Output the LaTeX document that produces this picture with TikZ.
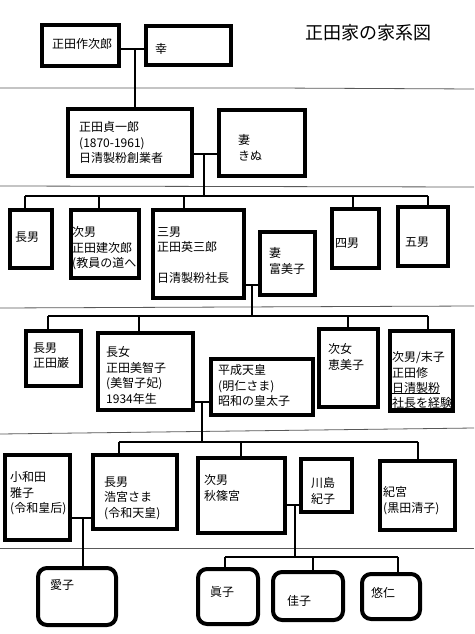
\documentclass[tikz,border=0pt]{standalone}
\usepackage{fontspec}
\newfontfamily\jp{Noto Sans CJK JP}
\tikzset{
  box/.style={draw=black, line width=4pt, fill=white, inner sep=0pt, outer sep=0pt},
  rbox/.style={box, rounded corners=9pt},
  conn/.style={draw=black, line width=2pt},
  sepline/.style={draw=black!65, line width=0.8pt},
  uline/.style={draw=black, line width=0.9pt},
  txt/.style={anchor=north west, inner sep=0pt, align=left, font=\jp\fontsize{12}{15.5}\selectfont},
  btxt/.style={anchor=base west, inner sep=0pt, font=\jp\fontsize{12}{15.5}\selectfont},
}
\newcommand\mybox[6][box]{\node[#1, anchor=north west, minimum width={#5pt-#3pt-4pt}, minimum height={#6pt-#4pt-4pt}] (#2) at (#3+2,#4+2) {};}
\begin{document}
\begin{tikzpicture}[x=1pt,y=-1pt]
\useasboundingbox (0,0) rectangle (474,634);
% separators
\draw[sepline] (0,88) -- (275,88) -- (474,89);
\draw[sepline] (0,186) -- (474,187);
\draw[sepline] (0,308) -- (474,306);
\draw[sepline] (0,434) -- (474,428);
\draw[sepline] (0,548) -- (474,548);
% title
\node[anchor=north west, inner sep=0pt, font=\jp\fontsize{18}{20}\selectfont] (title) at (305,24) {正田家の家系図};
% row 0
\mybox{sak}{40}{23}{121}{68}
\mybox{sachi}{144}{24}{233}{67}
\node[txt] (tsak) at (52,38.5) {正田作次郎};
\node[txt] (tsachi) at (155,43.5) {幸};
% row 1
\mybox{tei}{66}{107}{194}{178}
\mybox{kinu}{217}{108}{307}{178}
\node[txt] (ttei) at (79,121.5) {正田貞一郎\\(1870-1961)\\日清製粉創業者};
\node[txt] (tkinu) at (238,134.5) {妻\\きぬ};
% row 2
\mybox{c1}{8}{208}{54}{270}
\mybox{c2}{69}{208}{141}{280}
\mybox{c3}{151}{208}{246}{300}
\mybox{fumi}{258}{230}{317}{297}
\mybox{c4}{330}{207}{381}{270}
\mybox{c5}{396}{205}{450}{268}
\node[txt] (tc1) at (15,231.5) {長男};
\node[txt] (tc2) at (72,226.5) {次男\\正田建次郎\\(教員の道へ};
\node[txt] (tc3) at (157,226.5) {三男\\正田英三郎\\[15.5pt]日清製粉社長};
\node[txt] (tfumi) at (269,247.5) {妻\\富美子};
\node[txt] (tc4) at (335,237.5) {四男};
\node[txt] (tc5) at (405,236.5) {五男};
% row 3
\mybox{d1}{24}{329}{83}{388}
\mybox{d2}{96}{331}{195}{412}
\mybox{aki}{209}{357}{315}{417}
\mybox{d3}{317}{327}{380}{409}
\mybox{d4}{388}{329}{455}{413}
\node[txt] (td1) at (33,342.5) {長男\\正田巌};
\node[txt] (td2) at (106,346.5) {長女\\正田美智子\\(美智子妃)\\1934年生};
\node[txt] (taki) at (218,364.5) {平成天皇\\(明仁さま)\\昭和の皇太子};
\node[txt] (td3) at (328,343.5) {次女\\恵美子};
\node[txt] (td4) at (392,351.5) {次男/末子\\正田修};
\node[btxt] (td4c) at (392,392) {日清製粉};
\node[btxt] (td4d) at (392,407) {社長を経験};
\draw[uline] ([yshift=-1.8pt]td4c.base west) -- ([yshift=-1.8pt]td4c.base east);
\draw[uline] ([yshift=-1.8pt]td4d.base west) -- ([yshift=-1.8pt]td4d.base east);
% row 4
\mybox{masako}{3}{453}{72}{542}
\mybox{e1}{91}{453}{179}{531}
\mybox{e2}{196}{456}{287}{535}
\mybox{kiko}{299}{457}{354}{514}
\mybox{e3}{378}{459}{457}{532}
\node[txt] (tmasako) at (10,471.5) {小和田\\雅子\\(令和皇后)};
\node[txt] (te1) at (104,476.5) {長男\\浩宮さま\\(令和天皇)};
\node[txt] (te2) at (204,474.5) {次男\\秋篠宮};
\node[txt] (tkiko) at (311,477.5) {川島\\紀子};
\node[txt] (te3) at (383,486.5) {紀宮\\(黒田清子)};
% row 5
\mybox[rbox]{aiko}{36}{566}{118}{627}
\mybox[rbox]{mako}{196}{567}{260}{626}
\mybox[rbox]{kako}{271}{570}{345}{622}
\mybox[rbox]{hisa}{360}{572}{422}{621}
\node[txt] (taiko) at (50,579.5) {愛子};
\node[txt] (tmako) at (210,586.5) {眞子};
\node[txt] (tkako) at (287,595.5) {佳子};
\node[txt] (thisa) at (371,587.5) {悠仁};
% connectors: generation 0
\coordinate (m0) at (135,49);
\draw[conn] (sak.east |- m0) -- (sachi.west |- m0);
\draw[conn] (m0) -- (tei.north -| m0);
% generation 1
\coordinate (m1) at (204,154);
\coordinate (b1a) at (25,196);
\coordinate (b1b) at (99,196);
\coordinate (b1c) at (184,196);
\coordinate (b1d) at (353,196);
\coordinate (b1e) at (428,196);
\draw[conn] (tei.east |- m1) -- (kinu.west |- m1);
\draw[conn] (m1) -- (m1 |- b1a);
\draw[conn] (b1a) -- (b1e);
\draw[conn] (b1a) -- (c1.north -| b1a);
\draw[conn] (b1b) -- (c2.north -| b1b);
\draw[conn] (b1c) -- (c3.north -| b1c);
\draw[conn] (b1d) -- (c4.north -| b1d);
\draw[conn] (b1e) -- (c5.north -| b1e);
% generation 2
\coordinate (m2) at (252,285);
\coordinate (b2a) at (48,316);
\coordinate (b2b) at (139,316);
\coordinate (b2c) at (348,316);
\coordinate (b2d) at (428,316);
\draw[conn] (c3.east |- m2) -- (fumi.west |- m2);
\draw[conn] (m2) -- (m2 |- b2a);
\draw[conn] (b2a) -- (b2d);
\draw[conn] (b2a) -- (d1.north -| b2a);
\draw[conn] (b2b) -- (d2.north -| b2b);
\draw[conn] (b2c) -- (d3.north -| b2c);
\draw[conn] (b2d) -- (d4.north -| b2d);
% generation 3
\coordinate (m3) at (202,402);
\coordinate (b3a) at (119,442);
\coordinate (b3b) at (241,442);
\coordinate (b3c) at (418,442);
\draw[conn] (d2.east |- m3) -- (aki.west |- m3);
\draw[conn] (m3) -- (m3 |- b3a);
\draw[conn] (b3a) -- (b3c);
\draw[conn] (b3a) -- (e1.north -| b3a);
\draw[conn] (b3b) -- (e2.north -| b3b);
\draw[conn] (b3c) -- (e3.north -| b3c);
% generation 4
\coordinate (m4a) at (83,518);
\draw[conn] (masako.east |- m4a) -- (e1.west |- m4a);
\draw[conn] (m4a) -- (aiko.north -| m4a);
\coordinate (m4b) at (295,505);
\coordinate (b4a) at (225,557);
\coordinate (b4b) at (313,557);
\coordinate (b4c) at (398,557);
\draw[conn] (e2.east |- m4b) -- (kiko.west |- m4b);
\draw[conn] (m4b) -- (m4b |- b4a);
\draw[conn] (b4a) -- (b4c);
\draw[conn] (b4a) -- (mako.north -| b4a);
\draw[conn] (b4b) -- (kako.north -| b4b);
\draw[conn] (b4c) -- (hisa.north -| b4c);
\end{tikzpicture}
\end{document}
